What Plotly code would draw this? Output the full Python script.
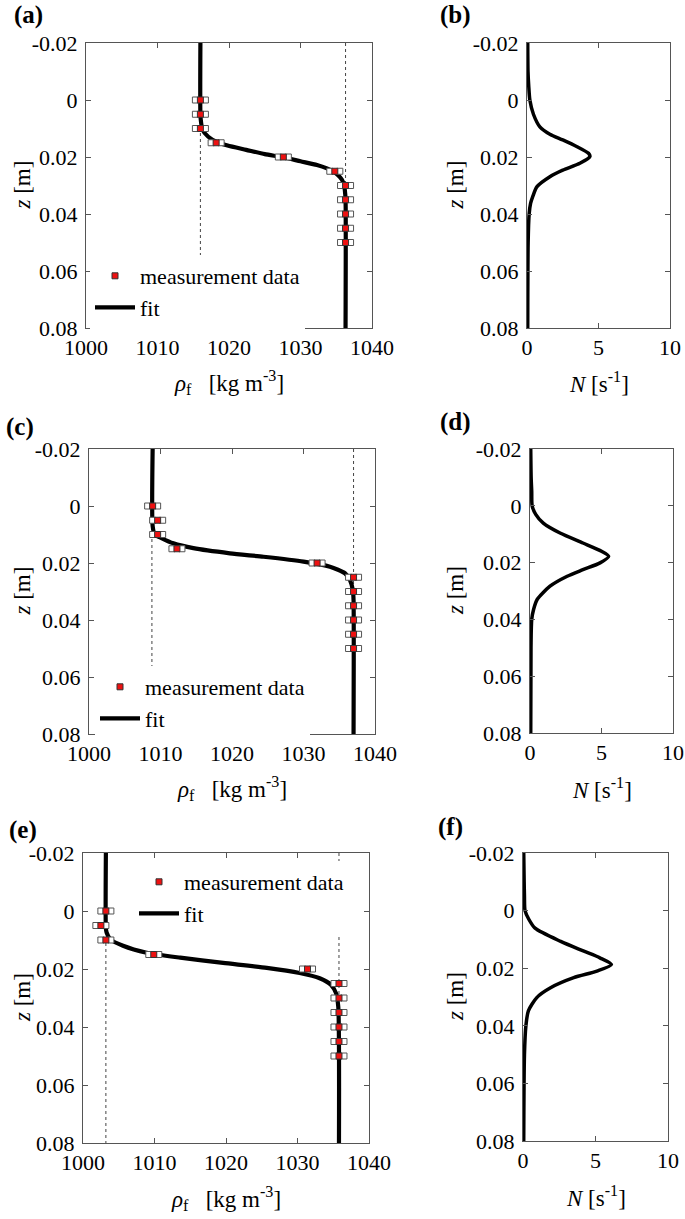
import plotly.graph_objects as go

W, H = 685, 1219
FONT = "Liberation Serif"

# ---------------- data ----------------
z_meas = [0.0, 0.005, 0.01, 0.015, 0.02, 0.025, 0.03, 0.035, 0.04, 0.045, 0.05]
rho_meas_a = [1016.0, 1016.0, 1016.0, 1018.2, 1027.6, 1034.8, 1036.3, 1036.3, 1036.3, 1036.3, 1036.3]
rho_meas_c = [1008.9, 1009.6, 1009.6, 1012.3, 1031.9, 1037.0, 1037.0, 1037.0, 1037.0, 1037.0, 1037.0]
rho_meas_e = [1003.2, 1002.5, 1003.2, 1009.9, 1031.4, 1035.8, 1035.8, 1035.8, 1035.8, 1035.8, 1035.8]

rho_ref_a = [1016.0, 1036.3]
rho_ref_c = [1008.8, 1037.0]
rho_ref_e = [1003.2, 1035.8]

fit_z_a = [-0.02, 0.005, 0.008, 0.0105, 0.0129, 0.0146, 0.016, 0.0175, 0.019, 0.0201, 0.0215,
           0.0228, 0.024, 0.0251, 0.0265, 0.028, 0.030, 0.0316, 0.035, 0.08]
fit_rho_a = [1016.0, 1016.0, 1016.1, 1016.3, 1017.1, 1018.2, 1019.8, 1022.4, 1025.0, 1027.6, 1030.0,
             1032.3, 1033.7, 1034.6, 1035.3, 1035.8, 1036.1, 1036.2, 1036.3, 1036.3]

fit_z_c = [-0.02, 0.007, 0.010, 0.01135, 0.0131, 0.0148, 0.0166, 0.0178, 0.0195, 0.0213,
           0.0236, 0.026, 0.0295, 0.033, 0.08]
fit_rho_c = [1008.9, 1008.9, 1009.2, 1010.2, 1011.8, 1014.6, 1019.7, 1024.4, 1030.0, 1033.7,
             1035.8, 1036.5, 1036.9, 1037.0, 1037.0]

fit_z_e = [-0.02, 0.006, 0.0074, 0.0097, 0.012, 0.0144, 0.0161, 0.0179, 0.0196, 0.0214,
           0.0232, 0.0255, 0.0284, 0.033, 0.08]
fit_rho_e = [1003.2, 1003.2, 1003.3, 1003.8, 1005.6, 1008.9, 1013.6, 1019.6, 1025.7, 1030.3,
             1033.1, 1034.7, 1035.4, 1035.7, 1035.8]

N_z_b = [-0.02, -0.01, -0.005, 0.0, 0.005, 0.0094, 0.012, 0.014, 0.0164, 0.0187, 0.0198,
         0.0222, 0.0246, 0.0269, 0.0304, 0.0339, 0.0363, 0.04, 0.05, 0.08]
N_b = [0.05, 0.07, 0.12, 0.2, 0.45, 0.9, 1.6, 2.5, 3.5, 4.3, 4.4,
       3.7, 2.5, 1.6, 0.7, 0.4, 0.25, 0.15, 0.08, 0.05]

N_z_d = [-0.02, -0.01, -0.005, 0.0, 0.003, 0.0061, 0.0096, 0.0131, 0.016, 0.0178,
         0.0201, 0.0225, 0.0248, 0.0283, 0.033, 0.0365, 0.04, 0.05, 0.08]
N_d = [0.05, 0.08, 0.12, 0.15, 0.4, 0.93, 2.1, 3.7, 5.0, 5.5,
       4.9, 3.7, 2.6, 1.4, 0.5, 0.25, 0.12, 0.07, 0.05]

N_z_f = [-0.02, -0.01, -0.005, 0.0, 0.003, 0.0061, 0.0107, 0.0141, 0.0164, 0.0187, 0.021,
         0.0233, 0.0268, 0.0302, 0.0348, 0.04, 0.05, 0.08]
N_f = [0.05, 0.08, 0.1, 0.14, 0.4, 0.83, 2.6, 4.2, 5.3, 6.1, 5.1,
       3.5, 1.9, 0.95, 0.37, 0.2, 0.1, 0.05]

z_ticks = [-0.02, 0.0, 0.02, 0.04, 0.06, 0.08]
z_ticktext = ["-0.02", "0", "0.02", "0.04", "0.06", "0.08"]
rho_ticks = [1000, 1010, 1020, 1030, 1040]
N_ticks = [0, 5, 10]

# ---------------- layout geometry (pixels from top-left) ----------------
boxes = {
    1: (86, 372, 43, 328),
    2: (527, 670, 43, 328),
    3: (89, 375, 449, 734),
    4: (530, 673, 449, 733),
    5: (83, 369, 853, 1143),
    6: (523, 668, 853, 1141),
}

# legends: (text start x, centre y of the two rows)
legend_pos = {"legend": (140, 292), "legend2": (145, 703), "legend3": (184, 898)}

SIDE_OFFSET = 0.7  # horizontal spacing of the flanking open squares (kg m^-3)

fig = go.Figure()


def ax_name(i, kind):
    return kind if i == 1 else f"{kind}{i}"


def add_rho_panel(i, rho_ref, fit_z, fit_rho, rho_meas, leg):
    xa = "x" if i == 1 else f"x{i}"
    ya = "y" if i == 1 else f"y{i}"
    for r in rho_ref:
        fig.add_trace(go.Scatter(x=[r, r], y=[z_ticks[0], z_ticks[-1]], mode="lines",
                                 line=dict(color="#444", width=1, dash="3px,3px"),
                                 showlegend=False, legend=leg, hoverinfo="skip",
                                 xaxis=xa, yaxis=ya))
    fig.add_trace(go.Scatter(x=fit_rho, y=fit_z, mode="lines", name="fit",
                             line=dict(color="black", width=4.2, shape="spline", smoothing=0.6),
                             legend=leg, legendrank=2, xaxis=xa, yaxis=ya))
    for sgn in (-1, 1):
        fig.add_trace(go.Scatter(x=[r + sgn * SIDE_OFFSET for r in rho_meas], y=z_meas,
                                 mode="markers",
                                 marker=dict(symbol="square", size=6, color="white",
                                             line=dict(color="#555", width=1)),
                                 showlegend=False, legend=leg, hoverinfo="skip",
                                 xaxis=xa, yaxis=ya))
    fig.add_trace(go.Scatter(x=rho_meas, y=z_meas, mode="markers", name="measurement data",
                             marker=dict(symbol="square", size=6, color="#ee1111",
                                         line=dict(color="#333", width=1)),
                             legend=leg, legendrank=1, xaxis=xa, yaxis=ya))


def add_N_panel(i, z, n):
    fig.add_trace(go.Scatter(x=n, y=z, mode="lines",
                             line=dict(color="black", width=3.5, shape="spline", smoothing=0.7),
                             showlegend=False, xaxis=f"x{i}", yaxis=f"y{i}"))


add_rho_panel(1, rho_ref_a, fit_z_a, fit_rho_a, rho_meas_a, "legend")
add_N_panel(2, N_z_b, N_b)
add_rho_panel(3, rho_ref_c, fit_z_c, fit_rho_c, rho_meas_c, "legend2")
add_N_panel(4, N_z_d, N_d)
add_rho_panel(5, rho_ref_e, fit_z_e, fit_rho_e, rho_meas_e, "legend3")
add_N_panel(6, N_z_f, N_f)

common = dict(showline=True, linecolor="#555", linewidth=1, mirror="ticks", ticks="inside",
              ticklen=5, tickcolor="#555", showgrid=False, zeroline=False, automargin=False,
              tickfont=dict(family=FONT, size=22, color="black"))

layout = {}
for i, (x0, x1, y0, y1) in boxes.items():
    xdom = [x0 / W, x1 / W]
    ydom = [1 - y1 / H, 1 - y0 / H]
    anchor_y = "y" if i == 1 else f"y{i}"
    anchor_x = "x" if i == 1 else f"x{i}"
    if i % 2 == 1:
        xcfg = dict(range=[1000, 1040], tickvals=rho_ticks)
    else:
        xcfg = dict(range=[0, 10], tickvals=N_ticks)
    layout[ax_name(i, "xaxis")] = dict(domain=xdom, anchor=anchor_y, **xcfg, **common)
    layout[ax_name(i, "yaxis")] = dict(domain=ydom, anchor=anchor_x, range=[0.08, -0.02],
                                       tickvals=z_ticks, ticktext=z_ticktext,
                                       ticklabelstandoff=3, **common)

for name, (tx, ty) in legend_pos.items():
    layout[name] = dict(x=(tx - 50) / W, y=1 - ty / H, xanchor="left", yanchor="middle",
                        bgcolor="white", borderwidth=0, itemwidth=40, tracegroupgap=0,
                        font=dict(family=FONT, size=22, color="black"))

annotations = []
rho_title = "<i>ρ</i><sub>f</sub>\u00a0\u00a0\u00a0[kg m<sup>-3</sup>]"
N_title = "<i>N</i> [s<sup>-1</sup>]"
z_title = "<i>z</i> [m]"

for i, (x0, x1, y0, y1) in boxes.items():
    cx = (x0 + x1) / 2
    cy = (y0 + y1) / 2
    annotations.append(dict(text=rho_title if i % 2 == 1 else N_title, xref="paper", yref="paper",
                            x=cx / W, y=1 - (y1 + 55) / H, xanchor="center", yanchor="middle",
                            showarrow=False, font=dict(family=FONT, size=23, color="black")))
    zx = 22 if i % 2 == 1 else 455
    annotations.append(dict(text=z_title, xref="paper", yref="paper", x=zx / W, y=1 - cy / H,
                            xanchor="center", yanchor="middle", textangle=-90, showarrow=False,
                            font=dict(family=FONT, size=23, color="black")))

panel_labels = [("(a)", 28, 15), ("(b)", 455, 15), ("(c)", 20, 427), ("(d)", 455, 422),
                ("(e)", 23, 830), ("(f)", 450, 827)]
for t, x, y in panel_labels:
    annotations.append(dict(text=f"<b>{t}</b>", xref="paper", yref="paper", x=x / W, y=1 - y / H,
                            xanchor="center", yanchor="middle", showarrow=False,
                            font=dict(family=FONT, size=25, color="black")))

fig.update_layout(template="none", width=W, height=H, margin=dict(l=0, r=0, t=0, b=0),
                  plot_bgcolor="white", paper_bgcolor="white", annotations=annotations,
                  font=dict(family=FONT, color="black"), **layout)

fig.write_html("out.html", config={"displayModeBar": False},
               post_script="document.body.style.margin='0px';")
